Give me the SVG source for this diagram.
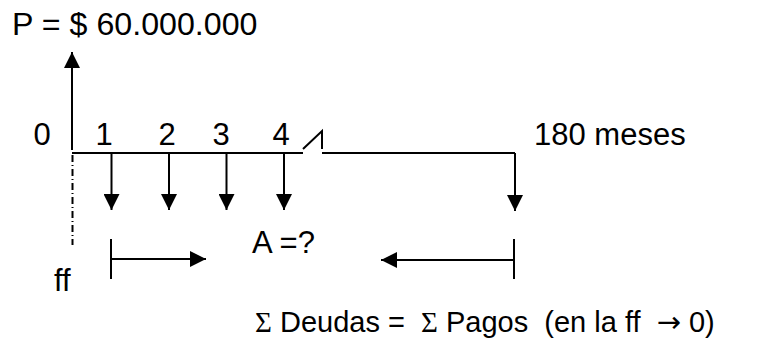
<svg xmlns="http://www.w3.org/2000/svg" width="770" height="340" viewBox="0 0 770 340">
<style>
text{font-family:"Liberation Sans",Arial,sans-serif;fill:#000}
.lbl{font-size:31px}
.ln{stroke:#000;stroke-width:2;fill:none}
.sym{font-family:"Liberation Serif","Times New Roman",serif}
.arw{font-family:"DejaVu Sans",sans-serif}
</style>
<defs>
<marker id="ah" viewBox="0 0 16 16" refX="16" refY="8" markerWidth="16" markerHeight="16" markerUnits="userSpaceOnUse" orient="auto">
<path d="M0,0 L16,8 L0,16 Z" fill="#000"/>
</marker>
</defs>
<rect width="770" height="340" fill="#fff"/>
<g id="title"><text x="12" y="35" style="font-size:32.2px">P = $ 60.000.000</text></g>
<g id="labels">
<text class="lbl" x="42" y="145" text-anchor="middle">0</text>
<text class="lbl" x="104" y="145" text-anchor="middle">1</text>
<text class="lbl" x="167" y="145" text-anchor="middle">2</text>
<text class="lbl" x="221" y="145" text-anchor="middle">3</text>
<text class="lbl" x="281" y="145" text-anchor="middle">4</text>
<text class="lbl" x="534" y="145">180 meses</text>
<text class="lbl" x="252" y="253">A =?</text>
<text class="lbl" x="54" y="291">ff</text>
<text x="255" y="332" style="font-size:29px" xml:space="preserve"><tspan class="sym">Σ</tspan> Deudas =  <tspan class="sym">Σ</tspan> Pagos  (en la ff  <tspan class="arw">→</tspan> 0)</text>
</g>
<g id="connectors">
<line class="ln" x1="72" y1="150" x2="72" y2="52" marker-end="url(#ah)"/>
<path class="ln" d="M72,153 H303 M303,149 L322,131 V149 M322,153 H515"/>
<line class="ln" x1="111.5" y1="153" x2="111.5" y2="210" marker-end="url(#ah)"/>
<line class="ln" x1="169" y1="153" x2="169" y2="210" marker-end="url(#ah)"/>
<line class="ln" x1="226.5" y1="153" x2="226.5" y2="210" marker-end="url(#ah)"/>
<line class="ln" x1="284" y1="153" x2="284" y2="210" marker-end="url(#ah)"/>
<line class="ln" x1="515" y1="153" x2="515" y2="211" marker-end="url(#ah)"/>
<line class="ln" x1="72.5" y1="155" x2="72.5" y2="245" stroke-dasharray="7,3,1,3"/>
<line class="ln" x1="111" y1="239" x2="111" y2="279"/>
<line class="ln" x1="111" y1="259" x2="206" y2="259" marker-end="url(#ah)"/>
<line class="ln" x1="514" y1="239" x2="514" y2="279"/>
<line class="ln" x1="514" y1="260" x2="381" y2="260" marker-end="url(#ah)"/>
</g>
</svg>
